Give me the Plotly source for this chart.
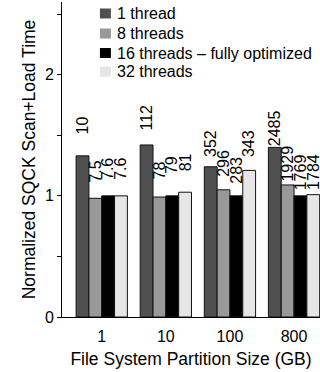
import plotly.graph_objects as go

categories = ["1", "10", "100", "800"]
series_names = ["1 thread", "8 threads", "16 threads \u2013 fully optimized", "32 threads"]
# normalized scan+load time (16 threads = 1)
norm_1 = [1.33, 1.42, 1.24, 1.40]
norm_8 = [0.98, 0.99, 1.05, 1.09]
norm_16 = [1.00, 1.00, 1.00, 1.00]
norm_32 = [1.00, 1.03, 1.21, 1.01]
# raw times printed above bars
lab_1 = ["10", "112", "352", "2485"]
lab_8 = ["7.5", "78", "296", "1929"]
lab_16 = ["7.6", "79", "283", "1769"]
lab_32 = ["7.6", "81", "343", "1784"]

colors = ["#505050", "#999999", "#000000", "#e6e6e6"]
label_gap = [[20, 13, 9, 0], [15, 17, 12, 2], [15, 21, 11, 5], [15, 20, 12, 4]]

values = [norm_1, norm_8, norm_16, norm_32]
labels = [lab_1, lab_8, lab_16, lab_32]
xs = list(range(len(categories)))
FONT = "Liberation Sans, Arial, Helvetica, sans-serif"

fig = go.Figure()
for j, (name, vals) in enumerate(zip(series_names, values)):
    fig.add_trace(go.Bar(x=xs, y=vals, name=name, marker=dict(color=colors[j], line=dict(color="#111111", width=1)),
                         showlegend=False, hoverinfo="skip"))

annotations = []
offsets = [-0.3, -0.1, 0.1, 0.3]
for j in range(4):
    for i in xs:
        annotations.append(dict(x=i + offsets[j], y=values[j][i], xref="x", yref="y", text=labels[j][i],
                                textangle=-90, showarrow=False, xanchor="center", yanchor="bottom",
                                yshift=label_gap[j][i] - 1, font=dict(size=16, color="#000", family=FONT)))

shapes = []
leg_y = [0.9635, 0.900, 0.838, 0.779]
for j in range(4):
    shapes.append(dict(type="rect", xref="paper", yref="paper", xsizemode="pixel", ysizemode="pixel",
                       xanchor=0.147 + 0.0213, yanchor=leg_y[j], x0=-5.5, x1=5.5, y0=-5, y1=5,
                       fillcolor=colors[j], line=dict(width=0)))
    annotations.append(dict(x=0.207, y=leg_y[j], xref="paper", yref="paper", text=series_names[j],
                            showarrow=False, xanchor="left", yanchor="middle",
                            font=dict(size=16, color="#000", family=FONT)))

fig.update_layout(
    width=320, height=372,
    margin=dict(l=62, r=0, t=2, b=55, autoexpand=False),
    paper_bgcolor="white", plot_bgcolor="white",
    barmode="group", bargap=0.2, bargroupgap=0,
    font=dict(family=FONT, size=16, color="#000"),
    annotations=annotations, shapes=shapes,
    xaxis=dict(range=[-0.62, 3.405], tickmode="array", tickvals=xs, ticktext=categories,
               showline=True, linecolor="#000", linewidth=1, ticks="", showgrid=False, zeroline=False,
               tickfont=dict(size=16), automargin=False, ticklabelstandoff=5,
               title=dict(text="File System Partition Size (GB)", font=dict(size=17.5), standoff=8)),
    yaxis=dict(range=[0, 2.6], tickmode="array", tickvals=[0, 0.5, 1, 1.5, 2, 2.5],
               ticktext=["0", "", "1", "", "2", ""], ticks="outside", ticklen=4, tickcolor="#000",
               showline=True, linecolor="#000", linewidth=1, showgrid=False, zeroline=False,
               tickfont=dict(size=16), automargin=False,
               title=dict(text="Normalized SQCK Scan+Load Time", font=dict(size=17.5), standoff=4)),
)

fig.write_html("out.html", config={"displayModeBar": False},
               post_script="document.body.style.margin='0';document.body.style.overflow='hidden';")
